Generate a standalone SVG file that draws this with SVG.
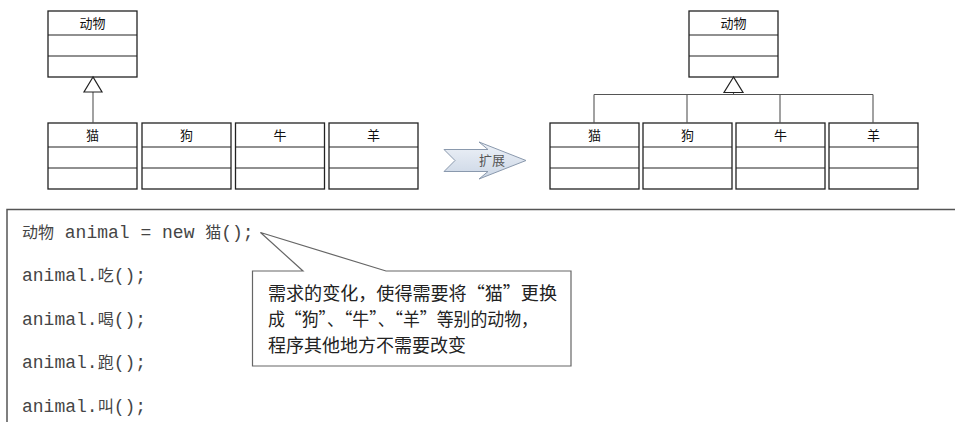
<svg xmlns="http://www.w3.org/2000/svg" width="955" height="422" viewBox="0 0 955 422">
<style>
.box{fill:#fff;stroke:#222;stroke-width:1.3}
.div{stroke:#222;stroke-width:1.2}
.lbl{font-family:"Noto Sans CJK SC",sans-serif;font-size:13px;fill:#111;text-anchor:middle}
.con{stroke:#555;stroke-width:1.1;fill:none}
.tri{fill:#fff;stroke:#222;stroke-width:1.2}
.code{font-family:"Liberation Mono","Noto Sans CJK SC",monospace;font-size:18px;fill:#454545}
.cj{font-family:"Noto Sans CJK SC",sans-serif;font-size:16px}
.note{font-family:"Noto Sans CJK SC",sans-serif;font-size:18px;fill:#222}
</style>
<defs>
<linearGradient id="ag" x1="0" y1="0" x2="0" y2="1">
<stop offset="0" stop-color="#eef2f8"/>
<stop offset="1" stop-color="#cbd6e5"/>
</linearGradient>
<g id="cls">
<rect class="box" x="0" y="0" width="89" height="66"/>
<line class="div" x1="0" y1="24" x2="89" y2="24"/>
<line class="div" x1="0" y1="45" x2="89" y2="45"/>
</g>
</defs>
<rect width="955" height="422" fill="#fff"/>

<!-- left diagram -->
<g id="l-animal"><use href="#cls" x="48" y="11"/><text class="lbl" x="92.5" y="27.5">动物</text></g>
<g id="l-cat"><use href="#cls" x="48" y="123"/><text class="lbl" x="92.5" y="139.5">猫</text></g>
<g id="l-dog"><use href="#cls" x="142" y="123"/><text class="lbl" x="186.5" y="139.5">狗</text></g>
<g id="l-cow"><use href="#cls" x="235.5" y="123"/><text class="lbl" x="280" y="139.5">牛</text></g>
<g id="l-sheep"><use href="#cls" x="329" y="123"/><text class="lbl" x="373.5" y="139.5">羊</text></g>

<!-- right diagram -->
<g id="r-animal"><use href="#cls" x="689" y="11"/><text class="lbl" x="733.5" y="27.5">动物</text></g>
<g id="r-cat"><use href="#cls" x="550" y="123"/><text class="lbl" x="594.5" y="139.5">猫</text></g>
<g id="r-dog"><use href="#cls" x="643" y="123"/><text class="lbl" x="687.5" y="139.5">狗</text></g>
<g id="r-cow"><use href="#cls" x="736" y="123"/><text class="lbl" x="780.5" y="139.5">牛</text></g>
<g id="r-sheep"><use href="#cls" x="829" y="123"/><text class="lbl" x="873.5" y="139.5">羊</text></g>

<g id="connectors">
<line class="con" x1="93" y1="92" x2="93" y2="123"/>
<polygon class="tri" points="93,77 84,92 102,92"/>
<path class="con" d="M733.5,92.5 V94.5 M594,94.5 H873 M594,94.5 V123 M687,94.5 V123 M780,94.5 V123 M873,94.5 V123"/>
<polygon class="tri" points="733.5,77 724,92.5 743,92.5"/>
</g>

<g id="extend-arrow">
<polygon points="444,149.5 488,149.5 479,142 526,160.5 479,179 488,171.5 444,171.5 455,160.5" fill="url(#ag)" stroke="#8a99ad" stroke-width="1"/>
<text x="492" y="165" font-family="Noto Sans CJK SC,sans-serif" font-size="13" fill="#555" text-anchor="middle">扩展</text>
</g>

<g id="code">
<path d="M7,422 V209.5 H955" fill="none" stroke="#555" stroke-width="1.5"/>
<text class="code" x="22" y="238"><tspan class="cj">动物</tspan> animal = new <tspan class="cj">猫</tspan>();</text>
<text class="code" x="22" y="281">animal.<tspan class="cj">吃</tspan>();</text>
<text class="code" x="22" y="324.5">animal.<tspan class="cj">喝</tspan>();</text>
<text class="code" x="22" y="368">animal.<tspan class="cj">跑</tspan>();</text>
<text class="code" x="22" y="411.5">animal.<tspan class="cj">叫</tspan>();</text>
</g>

<g id="callout">
<polygon points="252.5,271 303,271 260.5,232.5 386,271 571,271 571,366 252.5,366" fill="#fff" stroke="#666" stroke-width="1.2"/>
<text class="note" x="268" y="299.5" textLength="289" lengthAdjust="spacingAndGlyphs">需求的变化，使得需要将“猫”更换</text>
<text class="note" x="268" y="326" textLength="270" lengthAdjust="spacingAndGlyphs">成“狗”、“牛”、“羊”等别的动物，</text>
<text class="note" x="268" y="351.5">程序其他地方不需要改变</text>
</g>
</svg>
